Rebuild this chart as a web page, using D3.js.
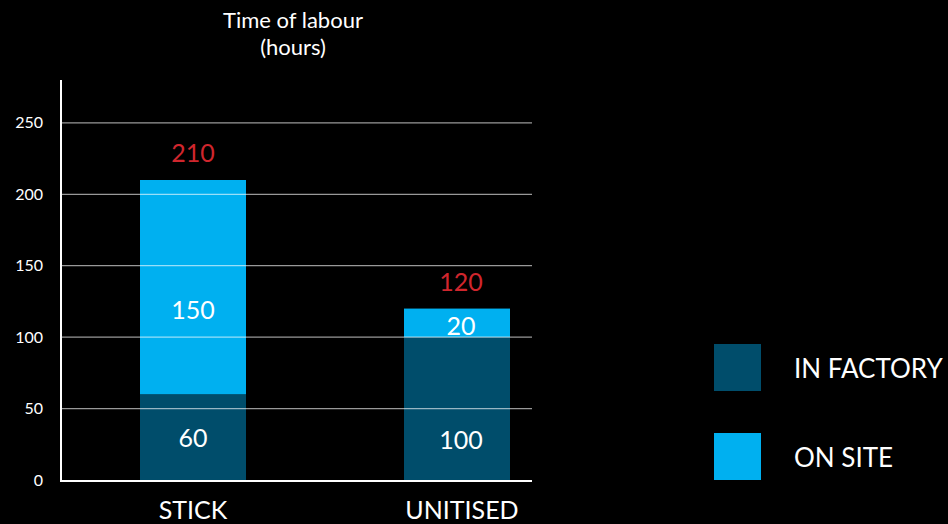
<!DOCTYPE html>
<html><head><meta charset="utf-8">
<script src="https://cdn.jsdelivr.net/npm/d3@7"></script>
<style>body{margin:0;background:#000;}svg{display:block;font-family:Lato,"Open Sans",sans-serif;}</style>
</head><body>
<svg id="c" width="948" height="524"></svg>
<script>
const categories = ["STICK", "UNITISED"];
const inFactory = [60, 100];
const onSite = [150, 20];
const totals = [210, 120];
const yTicks = [0, 50, 100, 150, 200, 250];
const seriesNames = ["IN FACTORY", "ON SITE"];
const colors = ["#004D6B", "#00B0F0"];

const svg = d3.select("#c");
svg.append("rect").attr("width",948).attr("height",524).attr("fill","#000");

const y = d3.scaleLinear().domain([0, 280]).range([480, 80]);
const x = d3.scalePoint().domain(categories).range([193, 457]);
const barW = 106;

// title
svg.append("text").attr("x",293).attr("y",28).attr("text-anchor","middle").attr("fill","#fff").attr("font-size",22).text("Time of labour");
svg.append("text").attr("x",293).attr("y",55).attr("text-anchor","middle").attr("fill","#fff").attr("font-size",22).text("(hours)");

// bars
const stacks = categories.map((c,i)=>({c, f:inFactory[i], s:onSite[i], t:totals[i]}));
const g = svg.append("g");
g.selectAll(".f").data(stacks).join("rect")
  .attr("x",d=>x(d.c)-barW/2).attr("width",barW)
  .attr("y",d=>y(d.f)).attr("height",d=>y(0)-y(d.f)).attr("fill",colors[0]);
g.selectAll(".s").data(stacks).join("rect")
  .attr("x",d=>x(d.c)-barW/2).attr("width",barW)
  .attr("y",d=>y(d.f+d.s)).attr("height",d=>y(d.f)-y(d.f+d.s)).attr("fill",colors[1]);

// gridlines on top (semi-transparent)
svg.append("g").selectAll("line").data(yTicks.filter(t=>t>0)).join("line")
  .attr("x1",61).attr("x2",532).attr("y1",d=>y(d)).attr("y2",d=>y(d))
  .attr("stroke","#fff").attr("stroke-opacity",0.6).attr("stroke-width",1.3);

// axis
const yAxis = d3.axisLeft(y).tickValues(yTicks).tickSize(0).tickPadding(18);
const ag = svg.append("g").attr("transform","translate(61,0)").call(yAxis);
ag.select(".domain").remove();
ag.selectAll("text").attr("fill","#fff").attr("font-size",16).attr("font-family","Lato,'Open Sans',sans-serif");
svg.append("line").attr("x1",61).attr("x2",61).attr("y1",80).attr("y2",481).attr("stroke","#fff").attr("stroke-width",2);
svg.append("line").attr("x1",60).attr("x2",532).attr("y1",481).attr("y2",481).attr("stroke","#fff").attr("stroke-width",2);

// value labels
const lbl = svg.append("g").attr("font-size",25).attr("text-anchor","middle");
lbl.selectAll(".t").data(stacks).join("text")
  .attr("x",(d,i)=>x(d.c)+(i?4:0)).attr("y",d=>y(d.t)-18).attr("fill","#D0262D").text(d=>d.t);
lbl.selectAll(".sv").data(stacks).join("text")
  .attr("x",(d,i)=>x(d.c)+(i?4:0)).attr("y",(d,i)=>i? y(d.f+d.s)+26 : y(d.f+d.s*0.35))
  .attr("fill","#fff").text(d=>d.s);
lbl.selectAll(".fv").data(stacks).join("text")
  .attr("x",(d,i)=>x(d.c)+(i?4:0)).attr("y",(d,i)=>i? 449 : (y(0)+y(d.f))/2+10)
  .attr("fill","#fff").text(d=>d.f);

// category labels
svg.append("g").selectAll("text").data(categories).join("text")
  .attr("x",(d,i)=>x(d)+(i?5:0)).attr("y",519).attr("text-anchor","middle")
  .attr("fill","#fff").attr("font-size",25).text(d=>d);

// legend
const lg = svg.append("g");
seriesNames.forEach((n,i)=>{
  lg.append("rect").attr("x",714).attr("y",344+i*89).attr("width",47).attr("height",47).attr("fill",colors[i]);
  lg.append("text").attr("x",794).attr("y",378+i*89).attr("fill","#fff").attr("font-size",26).text(n);
});
</script>
</body></html>
